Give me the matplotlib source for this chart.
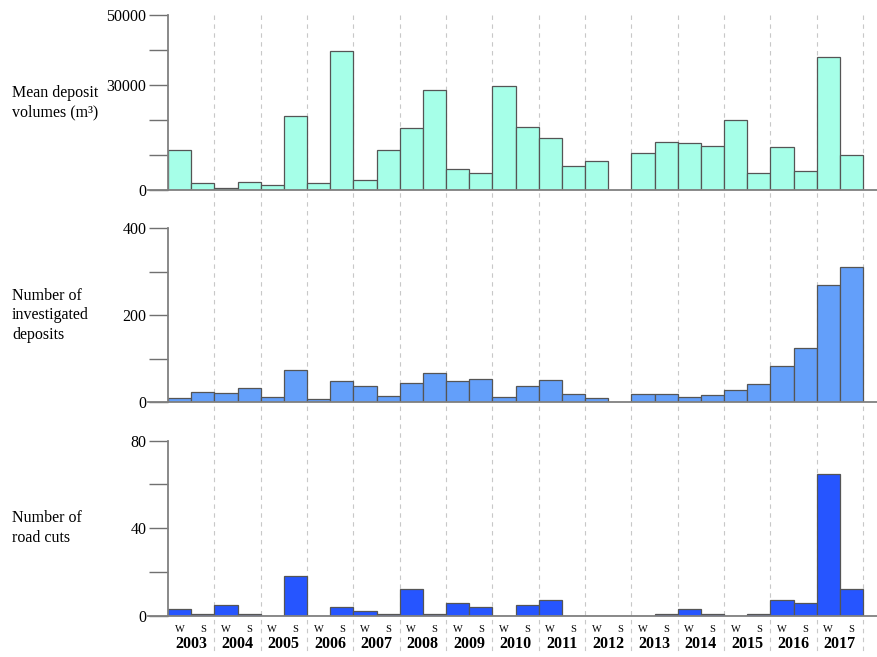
import numpy as np
import matplotlib
matplotlib.use("Agg")
import matplotlib.pyplot as plt
from matplotlib.lines import Line2D
from matplotlib.transforms import blended_transform_factory

plt.rcParams['font.family'] = ['Liberation Serif', 'DejaVu Serif']

years = [str(y) for y in range(2003, 2018)]
seasons = ["W", "S"]

# winter / summer pairs per year, None = no data
volumes = [11300, 1900, 500, 2200, 1350, 21100, 1900, 39600, 2800, 11300,
           17600, 28500, 5900, 4750, 29600, 17900, 15000, 6750, 8200, None,
           10500, 13800, 13300, 12500, 19900, 4750, 12300, 5500, 37900, 9900]
deposits = [9, 23, 21, 32, 12, 74, 7, 48, 37, 15,
            44, 67, 48, 53, 12, 38, 51, 19, 11, None,
            19, 18, 12, 16, 28, 41, 83, 124, 270, 312]
road_cuts = [3, 1, 5, 1, 0, 18, 0, 4, 2, 1,
             12, 1, 6, 4, 0, 5, 7, 0, 0, 0,
             0, 1, 3, 1, 0, 1, 7, 6, 65, 12]

panels = [
    ("Mean deposit\nvolumes (m\u00b3)", volumes, "#a6ffe8", 50000, 10000, [0, 30000, 50000]),
    ("Number of\ninvestigated\ndeposits", deposits, "#639ffa", 400, 100, [0, 200, 400]),
    ("Number of\nroad cuts", road_cuts, "#2655ff", 80, 20, [0, 40, 80]),
]

W, H = 878, 657
fig = plt.figure(figsize=(W / 100, H / 100), dpi=100)

# axes boxes in pixels: (top, bottom)
boxes = [(15, 190), (228.3, 402.3), (440.7, 615.7)]
left_px = 168
nbars = len(volumes)
xmax = nbars + (W - 863) / 23.17

axes = []
for (label, vals, color, ymax, step, labelled), (t, b) in zip(panels, boxes):
    ax = fig.add_axes([left_px / W, 1 - b / H, (W - left_px) / W, (b - t) / H])
    x = [i for i, v in enumerate(vals) if v is not None]
    h = [v for v in vals if v is not None]
    ax.bar(x, h, width=1.0, align="edge", color=color,
           edgecolor="#555555", linewidth=0.9, zorder=3)
    ax.set_xlim(0, xmax)
    ax.set_ylim(0, ymax)
    ticks = np.arange(0, ymax + 1, step)
    ax.set_yticks(ticks)
    ax.set_yticklabels([str(int(t_)) if t_ in labelled else "" for t_ in ticks])
    ax.tick_params(axis="y", length=14, width=1.0, color="#707070",
                   labelsize=11.5, pad=1.5)
    ax.set_xticks([])
    for s in ["top", "right"]:
        ax.spines[s].set_visible(False)
    for s in ["left", "bottom"]:
        ax.spines[s].set_color("#808080")
        ax.spines[s].set_linewidth(1.3)
        ax.spines[s].set_zorder(4)
    ax.patch.set_alpha(0)
    # row label, centred on the panel
    fig.text(12 / W, 1 - (t + b) / 2 / H, label, ha="left", va="center",
             fontsize=11.5, linespacing=1.3)
    axes.append(ax)

# bottom spine starts under the tick marks
for ax in axes:
    ax.spines["bottom"].set_bounds(-20 / 23.17, xmax)

# season and year labels under the bottom panel
bot = axes[-1]
tr = blended_transform_factory(bot.transData, fig.transFigure)
for i in range(nbars):
    fig.text(i + 0.5, 1 - 629 / H, seasons[i % 2], transform=tr,
             ha="center", va="center", fontsize=7.5)
for j, yr in enumerate(years):
    fig.text(2 * j + 1, 1 - 644 / H, yr, transform=tr,
             ha="center", va="center", fontsize=11.5, fontweight="bold")

# dashed year separators running through all panels
for j in range(1, len(years) + 1):
    fig.add_artist(Line2D([2 * j, 2 * j], [1 - 15 / H, 1 - 655 / H],
                          transform=tr, color="#c8c8c8", linewidth=0.8,
                          linestyle=(0, (4, 4)), zorder=0))

fig.savefig("out.png", dpi=100)
